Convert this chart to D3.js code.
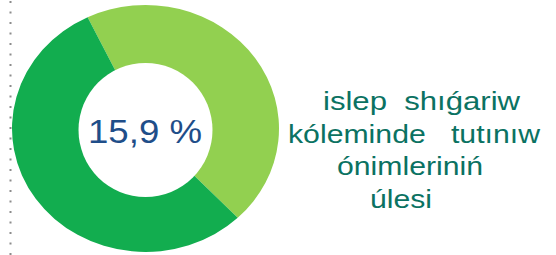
<!DOCTYPE html>
<html>
<head>
<meta charset="utf-8">
<script src="https://d3js.org/d3.v7.min.js"></script>
<style>
  body { margin: 0; background: #fff; }
  svg { display: block; font-family: "Liberation Sans", Arial, sans-serif; }
</style>
</head>
<body>
<svg id="chart" width="556" height="255"></svg>
<script>
// share of the two ring segments (percent)
var segNames = ["other", "tutiniw"];
var segValues = [45, 55];
var segColors = ["#92d050", "#12ad4f"];
var centerLabel = "15,9 %";
var sideLines = ["islep  shıǵariw", "kóleminde   tutınıw", "ónimleriniń", "úlesi"];
var sideX = [323, 288, 337, 370];
var sideW = [197, 252, 146, 62];

var width = 556, height = 255;
var cx = 145.5, cy = 128.5;
var rx = 133.5, ry = 123.5;
var holeR = 67;

var svg = d3.select("#chart");

// dotted separator on the left
svg.append("line")
    .attr("x1", 10.5).attr("x2", 10.5)
    .attr("y1", 1).attr("y2", 255)
    .attr("stroke", "#8c8c8c")
    .attr("stroke-width", 2)
    .attr("stroke-dasharray", "2,8.5");

var pie = d3.pie()
    .sort(null)
    .value(function(d) { return d; })
    .startAngle(-25.7 * Math.PI / 180)
    .endAngle((360 - 25.7) * Math.PI / 180);

var arc = d3.arc().innerRadius(0).outerRadius(rx);

var g = svg.append("g")
    .attr("transform", "translate(" + cx + "," + cy + ") scale(1," + (ry / rx) + ")");

g.selectAll("path")
    .data(pie(segValues))
    .enter()
    .append("path")
    .attr("d", arc)
    .attr("fill", function(d, i) { return segColors[i]; });

// hole
svg.append("circle")
    .attr("cx", cx).attr("cy", cy + 1.5)
    .attr("r", holeR)
    .attr("fill", "#fff");

svg.append("text")
    .attr("x", 88)
    .attr("y", 143)
    .attr("fill", "#1f4e89")
    .attr("textLength", 114)
    .attr("lengthAdjust", "spacingAndGlyphs")
    .style("font-size", "33px")
    .text(centerLabel);

svg.append("g")
    .selectAll("text")
    .data(sideLines)
    .enter()
    .append("text")
    .attr("x", function(d, i) { return sideX[i]; })
    .attr("y", function(d, i) { return 110 + i * 32.5; })
    .attr("fill", "#0b7262")
    .attr("textLength", function(d, i) { return sideW[i]; })
    .attr("lengthAdjust", "spacingAndGlyphs")
    .attr("xml:space", "preserve")
    .style("font-size", "26px")
    .style("white-space", "pre")
    .text(function(d) { return d; });
</script>
</body>
</html>
